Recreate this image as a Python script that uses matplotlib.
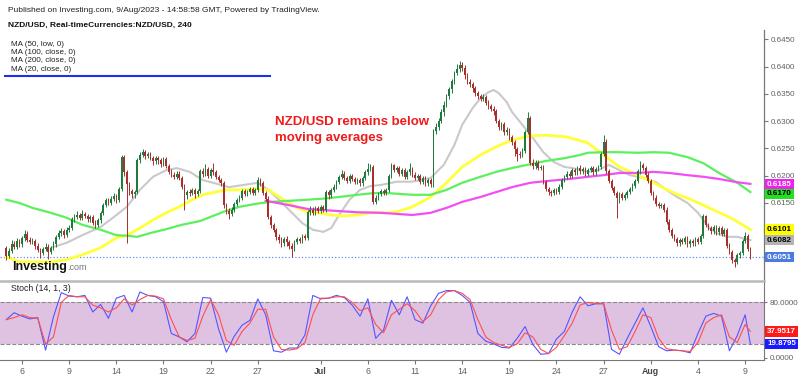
import numpy as np
import matplotlib
matplotlib.use("Agg")
import matplotlib.pyplot as plt
from matplotlib.lines import Line2D

plt.rcParams['font.family'] = ['Liberation Sans', 'DejaVu Sans']

# 4h candles, NZD/USD, 5 Jun - 9 Aug 2023 (prices in pips, /10000)
open_pips = [
    6068, 6052, 6062, 6075, 6070, 6080, 6074, 6085, 6094, 6083, 6078, 6080,
    6072, 6064, 6058, 6066, 6070, 6060, 6068, 6074, 6088, 6095, 6098, 6092,
    6100, 6104, 6120, 6124, 6128, 6122, 6130, 6126, 6120, 6124, 6114, 6110,
    6118, 6132, 6146, 6155, 6150, 6158, 6162, 6156, 6176, 6234, 6206, 6184,
    6172, 6166, 6170, 6228, 6238, 6243, 6236, 6240, 6232, 6226, 6232, 6228,
    6222, 6230, 6218, 6207, 6202, 6198, 6204, 6196, 6180, 6164, 6170, 6168,
    6174, 6166, 6172, 6208, 6204, 6212, 6200, 6210, 6206, 6198, 6192, 6186,
    6146, 6136, 6130, 6138, 6148, 6156, 6160, 6172, 6166, 6170, 6176, 6168,
    6174, 6192, 6186, 6168, 6158, 6124, 6110, 6100, 6088, 6082, 6076, 6084,
    6078, 6072, 6066, 6078, 6084, 6080, 6090, 6086, 6134, 6138, 6132, 6140,
    6136, 6142, 6138, 6170, 6164, 6174, 6180, 6188, 6198, 6204, 6196, 6190,
    6200, 6194, 6188, 6192, 6186, 6196, 6206, 6212, 6216, 6152, 6160, 6166,
    6172, 6168, 6174, 6200, 6219, 6210, 6214, 6204, 6210, 6198, 6206, 6212,
    6202, 6196, 6200, 6188, 6196, 6186, 6192, 6184, 6282, 6290, 6300, 6316,
    6330, 6346, 6358, 6374, 6388, 6396, 6402, 6398, 6384, 6372, 6368, 6360,
    6352, 6346, 6340, 6344, 6334, 6328, 6322, 6318, 6300, 6290, 6294, 6280,
    6284, 6270, 6262, 6248, 6240, 6238, 6246, 6280, 6306, 6224, 6218, 6224,
    6214, 6216, 6188, 6176, 6170, 6168, 6174, 6170, 6180, 6192, 6198, 6204,
    6200, 6210, 6206, 6214, 6208, 6212, 6204, 6210, 6214, 6206, 6212, 6216,
    6240, 6262, 6208, 6190, 6178, 6168, 6160, 6166, 6160, 6164, 6170, 6176,
    6182, 6190, 6208, 6220, 6214, 6202, 6190, 6168, 6160, 6148, 6144, 6146,
    6138, 6116, 6100, 6090, 6084, 6076, 6082, 6078, 6086, 6074, 6080, 6076,
    6084, 6078, 6090, 6126, 6110, 6104, 6098, 6106, 6096, 6104, 6094, 6100,
    6072, 6060, 6046, 6042, 6054, 6058, 6080, 6090, 6066,
]
high_pips = [
    6072, 6068, 6082, 6080, 6086, 6084, 6090, 6100, 6098, 6088, 6086, 6084,
    6076, 6068, 6070, 6076, 6074, 6072, 6080, 6092, 6100, 6104, 6102, 6106,
    6110, 6124, 6130, 6136, 6132, 6137, 6134, 6130, 6128, 6128, 6118, 6122,
    6136, 6150, 6160, 6160, 6162, 6168, 6166, 6180, 6238, 6238, 6210, 6188,
    6176, 6174, 6232, 6244, 6248, 6247, 6244, 6244, 6236, 6236, 6236, 6232,
    6234, 6234, 6222, 6212, 6206, 6208, 6208, 6200, 6184, 6174, 6176, 6178,
    6178, 6176, 6212, 6214, 6222, 6216, 6214, 6223, 6210, 6202, 6196, 6190,
    6150, 6140, 6142, 6152, 6160, 6164, 6176, 6176, 6174, 6180, 6180, 6178,
    6198, 6196, 6190, 6172, 6162, 6128, 6114, 6104, 6094, 6088, 6088, 6090,
    6082, 6076, 6082, 6088, 6088, 6094, 6094, 6138, 6144, 6142, 6144, 6144,
    6146, 6146, 6174, 6174, 6178, 6184, 6192, 6202, 6210, 6208, 6200, 6204,
    6204, 6198, 6196, 6196, 6200, 6210, 6223, 6222, 6220, 6164, 6170, 6176,
    6176, 6178, 6204, 6224, 6222, 6218, 6218, 6214, 6214, 6210, 6224, 6216,
    6206, 6204, 6204, 6200, 6200, 6196, 6196, 6286, 6296, 6306, 6322, 6336,
    6350, 6362, 6378, 6392, 6404, 6410, 6408, 6402, 6388, 6378, 6372, 6364,
    6356, 6350, 6350, 6348, 6338, 6332, 6328, 6322, 6304, 6298, 6298, 6290,
    6288, 6274, 6266, 6252, 6246, 6250, 6284, 6316, 6310, 6230, 6228, 6228,
    6220, 6220, 6192, 6180, 6174, 6178, 6178, 6184, 6196, 6202, 6208, 6208,
    6214, 6214, 6218, 6220, 6216, 6216, 6214, 6218, 6218, 6216, 6220, 6244,
    6274, 6268, 6212, 6194, 6182, 6172, 6170, 6170, 6168, 6174, 6180, 6186,
    6194, 6212, 6226, 6224, 6218, 6206, 6194, 6172, 6164, 6152, 6150, 6150,
    6142, 6120, 6104, 6094, 6088, 6086, 6086, 6090, 6090, 6084, 6084, 6088,
    6088, 6094, 6130, 6128, 6114, 6108, 6110, 6110, 6108, 6108, 6104, 6104,
    6076, 6064, 6050, 6058, 6062, 6084, 6096, 6094, 6070,
]
low_pips = [
    6046, 6050, 6058, 6066, 6066, 6070, 6070, 6080, 6079, 6074, 6074, 6066,
    6060, 6050, 6054, 6062, 6047, 6056, 6064, 6070, 6084, 6090, 6086, 6088,
    6096, 6100, 6116, 6120, 6118, 6118, 6122, 6116, 6115, 6110, 6104, 6106,
    6114, 6128, 6142, 6146, 6146, 6154, 6150, 6152, 6172, 6200, 6077, 6165,
    6160, 6160, 6166, 6224, 6234, 6230, 6232, 6228, 6220, 6222, 6222, 6216,
    6218, 6214, 6203, 6198, 6194, 6194, 6192, 6176, 6137, 6158, 6162, 6164,
    6160, 6162, 6168, 6198, 6200, 6196, 6196, 6202, 6194, 6188, 6182, 6140,
    6130, 6120, 6126, 6134, 6144, 6152, 6156, 6162, 6162, 6166, 6164, 6164,
    6170, 6182, 6164, 6154, 6120, 6104, 6096, 6082, 6076, 6070, 6072, 6072,
    6066, 6051, 6062, 6074, 6076, 6076, 6082, 6082, 6128, 6128, 6128, 6132,
    6132, 6134, 6134, 6158, 6160, 6170, 6176, 6184, 6194, 6192, 6186, 6186,
    6190, 6184, 6184, 6182, 6182, 6192, 6202, 6208, 6148, 6148, 6156, 6162,
    6164, 6164, 6170, 6196, 6206, 6206, 6200, 6200, 6194, 6194, 6202, 6198,
    6192, 6192, 6184, 6184, 6182, 6182, 6180, 6180, 6276, 6284, 6296, 6310,
    6326, 6340, 6352, 6368, 6384, 6390, 6392, 6378, 6368, 6362, 6354, 6346,
    6340, 6336, 6336, 6330, 6322, 6318, 6312, 6296, 6284, 6284, 6274, 6274,
    6266, 6256, 6236, 6226, 6232, 6234, 6242, 6276, 6220, 6212, 6212, 6210,
    6210, 6184, 6172, 6164, 6162, 6164, 6166, 6166, 6176, 6188, 6194, 6196,
    6196, 6202, 6202, 6204, 6204, 6200, 6200, 6206, 6202, 6202, 6208, 6212,
    6236, 6204, 6186, 6174, 6164, 6122, 6150, 6156, 6156, 6160, 6166, 6172,
    6178, 6186, 6204, 6210, 6198, 6186, 6164, 6156, 6144, 6140, 6140, 6134,
    6112, 6096, 6086, 6080, 6072, 6072, 6074, 6074, 6070, 6070, 6072, 6072,
    6074, 6074, 6086, 6106, 6100, 6094, 6094, 6092, 6092, 6090, 6090, 6068,
    6056, 6040, 6032, 6038, 6050, 6054, 6076, 6062, 6048,
]
close_pips = [
    6052, 6062, 6075, 6070, 6080, 6074, 6085, 6094, 6083, 6078, 6080, 6072,
    6064, 6058, 6066, 6070, 6060, 6068, 6074, 6088, 6095, 6098, 6092, 6100,
    6104, 6120, 6124, 6128, 6122, 6130, 6126, 6120, 6124, 6114, 6110, 6118,
    6132, 6146, 6155, 6150, 6158, 6162, 6156, 6176, 6234, 6206, 6184, 6172,
    6166, 6170, 6228, 6238, 6243, 6236, 6240, 6232, 6226, 6232, 6228, 6222,
    6230, 6218, 6207, 6202, 6198, 6204, 6196, 6180, 6164, 6170, 6168, 6174,
    6166, 6172, 6208, 6204, 6212, 6200, 6210, 6206, 6198, 6192, 6186, 6146,
    6136, 6130, 6138, 6148, 6156, 6160, 6172, 6166, 6170, 6176, 6168, 6174,
    6192, 6186, 6168, 6158, 6124, 6110, 6100, 6088, 6082, 6076, 6084, 6078,
    6072, 6066, 6078, 6084, 6080, 6090, 6086, 6134, 6138, 6132, 6140, 6136,
    6142, 6138, 6170, 6164, 6174, 6180, 6188, 6198, 6204, 6196, 6190, 6200,
    6194, 6188, 6192, 6186, 6196, 6206, 6212, 6216, 6152, 6160, 6166, 6172,
    6168, 6174, 6200, 6219, 6210, 6214, 6204, 6210, 6198, 6206, 6212, 6202,
    6196, 6200, 6188, 6196, 6186, 6192, 6184, 6282, 6290, 6300, 6316, 6330,
    6346, 6358, 6374, 6388, 6396, 6402, 6398, 6384, 6372, 6368, 6360, 6352,
    6346, 6340, 6344, 6334, 6328, 6322, 6318, 6300, 6290, 6294, 6280, 6284,
    6270, 6262, 6248, 6240, 6238, 6246, 6280, 6306, 6224, 6218, 6224, 6214,
    6216, 6188, 6176, 6170, 6168, 6174, 6170, 6180, 6192, 6198, 6204, 6200,
    6210, 6206, 6214, 6208, 6212, 6204, 6210, 6214, 6206, 6212, 6216, 6240,
    6262, 6208, 6190, 6178, 6168, 6160, 6166, 6160, 6164, 6170, 6176, 6182,
    6190, 6208, 6220, 6214, 6202, 6190, 6168, 6160, 6148, 6144, 6146, 6138,
    6116, 6100, 6090, 6084, 6076, 6082, 6078, 6086, 6074, 6080, 6076, 6084,
    6078, 6090, 6126, 6110, 6104, 6098, 6106, 6096, 6104, 6094, 6100, 6072,
    6060, 6046, 6042, 6054, 6058, 6080, 6090, 6066, 6051,
]

# moving averages at these bar numbers
ma20_x = [17, 23, 29, 36, 41, 46, 51, 56, 61, 65, 70, 75, 82, 85, 96, 100, 103, 108, 113, 117,
          121, 124, 127, 131, 135, 139, 143, 149, 155, 162, 167, 171, 174, 178, 181, 184, 186, 188,
          191, 193, 197, 201, 205, 209, 213, 216, 222, 226, 230, 234, 238, 243, 248, 252, 256, 260,
          264, 268, 271, 275, 279, 284]
ma20 = [0.6068, 0.6077, 0.6091, 0.6106, 0.6124, 0.6143, 0.6174, 0.6198, 0.6210, 0.6214, 0.6207,
        0.6192, 0.6183, 0.6179, 0.6187, 0.6174, 0.6161, 0.6137, 0.6113, 0.6101, 0.6097, 0.6104,
        0.6128, 0.6156, 0.6174, 0.6181, 0.6183, 0.6189, 0.6189, 0.6196, 0.6220, 0.6256, 0.6293,
        0.6324, 0.6342, 0.6353, 0.6357, 0.6351, 0.6335, 0.6317, 0.6293, 0.6269, 0.6243, 0.6225,
        0.6216, 0.6214, 0.6207, 0.6210, 0.6220, 0.6210, 0.6201, 0.6196, 0.6188, 0.6174, 0.6161,
        0.6150, 0.6132, 0.6106, 0.6095, 0.6088, 0.6088, 0.6082]
ma50_x = [0, 5, 17, 23, 29, 36, 42, 46, 51, 56, 61, 66, 71, 75, 80, 84, 89, 96, 100, 103, 107,
          111, 115, 119, 124, 129, 134, 139, 146, 150, 155, 162, 168, 174, 181, 187, 193, 200, 206,
          214, 222, 228, 234, 241, 246, 251, 256, 261, 266, 271, 276, 280, 284]
ma50 = [0.6051, 0.6042, 0.6042, 0.6046, 0.6055, 0.6068, 0.6086, 0.6091, 0.6104, 0.6119, 0.6132,
        0.6143, 0.6156, 0.6165, 0.6170, 0.6174, 0.6174, 0.6176, 0.6174, 0.6165, 0.6152, 0.6141,
        0.6134, 0.6132, 0.6128, 0.6126, 0.6128, 0.6132, 0.6132, 0.6135, 0.6143, 0.6161, 0.6187,
        0.6216, 0.6238, 0.6253, 0.6265, 0.6273, 0.6274, 0.6271, 0.6260, 0.6238, 0.6216, 0.6201,
        0.6190, 0.6177, 0.6166, 0.6157, 0.6146, 0.6135, 0.6124, 0.6113, 0.6101]
ma100_x = [0, 5, 10, 17, 23, 29, 36, 42, 46, 50, 55, 61, 67, 74, 83, 89, 96, 101, 108, 115, 121,
           127, 134, 140, 146, 155, 162, 168, 174, 181, 187, 193, 200, 206, 213, 219, 222, 228,
           234, 241, 247, 253, 260, 266, 272, 279, 284]
ma100 = [0.6156, 0.6150, 0.6141, 0.6132, 0.6123, 0.6110, 0.6101, 0.6091, 0.6090, 0.6088, 0.6095,
         0.6102, 0.6110, 0.6117, 0.6134, 0.6143, 0.6149, 0.6152, 0.6154, 0.6156, 0.6158, 0.6161,
         0.6165, 0.6168, 0.6168, 0.6165, 0.6165, 0.6174, 0.6187, 0.6198, 0.6207, 0.6214, 0.6221,
         0.6227, 0.6232, 0.6238, 0.6242, 0.6243, 0.6243, 0.6242, 0.6243, 0.6242, 0.6234, 0.6223,
         0.6205, 0.6187, 0.6170]
ma200_x = [99, 108, 115, 121, 134, 143, 155, 162, 168, 174, 181, 187, 193, 200, 206, 215, 222,
           228, 234, 241, 247, 253, 260, 266, 272, 279, 284]
ma200 = [0.6154, 0.6146, 0.6139, 0.6137, 0.6133, 0.6132, 0.6128, 0.6132, 0.6141, 0.6152, 0.6161,
         0.6170, 0.6179, 0.6187, 0.6190, 0.6194, 0.6198, 0.6201, 0.6205, 0.6205, 0.6207, 0.6205,
         0.6201, 0.6198, 0.6194, 0.6188, 0.6185]

# stochastic (14, 1, 3), every third bar plus the last one
stoch_k = [55, 65, 60, 56, 58, 11, 59, 94, 89, 88,
           90, 66, 77, 57, 86, 90, 66, 95, 90, 88,
           81, 35, 30, 23, 35, 87, 86, 42, 8, 31,
           47, 54, 85, 62, 10, 8, 14, 14, 33, 90,
           85, 86, 90, 87, 76, 60, 85, 28, 40, 83,
           62, 88, 55, 50, 75, 93, 97, 97, 90, 80,
           35, 24, 20, 15, 14, 28, 45, 19, 5, 6,
           27, 38, 66, 88, 75, 78, 78, 12, 5, 28,
           50, 72, 45, 16, 10, 11, 10, 7, 35, 60,
           64, 60, 10, 32, 62, 19.8795]
stoch_d = [55, 58, 62, 58, 57, 20, 30, 80, 90, 88,
           88, 76, 72, 66, 72, 85, 76, 84, 90, 89,
           85, 55, 30, 25, 28, 60, 84, 62, 25, 18,
           38, 50, 70, 70, 30, 12, 11, 13, 22, 62,
           86, 86, 88, 88, 80, 68, 72, 48, 36, 62,
           70, 78, 68, 52, 62, 84, 95, 97, 93, 84,
           55, 30, 22, 18, 15, 20, 36, 30, 12, 6,
           15, 32, 50, 76, 80, 78, 78, 40, 12, 16,
           38, 62, 58, 28, 13, 11, 10, 9, 22, 50,
           58, 62, 30, 22, 48, 37.9517]

day_labels = ["6", "9", "14", "19", "22", "27", "Jul", "6", "11", "14", "19", "24", "27", "Aug", "4", "9"]
day_numbers = [1, 4, 7, 10, 13, 16, 20, 23, 26, 29, 32, 35, 38, 41, 44, 47]  # trading days since 5 Jun
price_ticks = [0.6050, 0.6100, 0.6150, 0.6200, 0.6250, 0.6300, 0.6350, 0.6400, 0.6450]
hidden_ticks = [0.6050, 0.6100]  # covered by the last-value tags

W, H = 800, 376
GREY_TXT = "#606060"


def px_box(x0, y0, x1, y1):
    return [x0 / W, 1 - y1 / H, (x1 - x0) / W, (y1 - y0) / H]


def tag(axis, value, text, fc, tc):
    axis.text(1.004, value, text, transform=axis.get_yaxis_transform(), ha="left", va="center",
              fontsize=5.8, fontweight="bold", color=tc, clip_on=False, zorder=6,
              bbox=dict(boxstyle="square,pad=0.22", fc=fc, ec="none"))


o = np.array(open_pips) / 10000
h = np.array(high_pips) / 10000
l = np.array(low_pips) / 10000
c = np.array(close_pips) / 10000
x = np.arange(len(c))
up = c >= o

fig = plt.figure(figsize=(W / 100, H / 100), dpi=100)
ax = fig.add_axes(px_box(0, 30, 764, 280))
st = fig.add_axes(px_box(0, 281, 764, 360), sharex=ax)

# moving averages
ax.plot(ma20_x, ma20, color="#c9c9c9", lw=1.5, zorder=2)
ax.plot(ma50_x, ma50, color="#ffff3a", lw=2.0, zorder=2)
ax.plot(ma100_x, ma100, color="#5cf05c", lw=1.6, zorder=2)
ax.plot(ma200_x, ma200, color="#f24ff2", lw=1.6, zorder=2)

# candles
colors = np.where(up, "#1f7a3e", "#a8302c")
ax.vlines(x, l, h, colors=colors, lw=0.7, zorder=3)
ax.bar(x, np.maximum(np.abs(c - o), 0.00005), bottom=np.minimum(o, c), width=0.62,
       color=colors, lw=0, zorder=4)

ax.axhline(c[-1], color="#6f8fe6", ls=":", lw=0.9, zorder=1)

ax.set_xlim(-2.4, 289.2)
ax.set_ylim(0.60089, 0.64669)
ax.set_yticks(price_ticks)
ax.set_yticklabels(["" if v in hidden_ticks else f"{v:.4f}" for v in price_ticks])
ax.yaxis.tick_right()
ax.tick_params(axis="y", labelsize=5.8, labelcolor=GREY_TXT, color="#777777", length=3, pad=2)
ax.tick_params(axis="x", bottom=False, labelbottom=False)
for side in ["left", "top", "bottom"]:
    ax.spines[side].set_visible(False)
ax.spines["right"].set_color("#777777")
ax.spines["right"].set_linewidth(0.9)

tag(ax, ma200[-1] - 0.00005, f"{ma200[-1]:.4f}", "#f020f0", "white")
tag(ax, ma100[-1] - 0.00035, f"{ma100[-1]:.4f}", "#22e022", "black")
tag(ax, ma50[-1], f"{ma50[-1]:.4f}", "#ffff00", "black")
tag(ax, ma20[-1], f"{ma20[-1]:.4f}", "#b4b4b4", "black")
tag(ax, c[-1], f"{c[-1]:.4f}", "#4a7be0", "white")

# stochastic panel
stoch_x = np.append(np.arange(0, 283, 3), len(c) - 1)
st.axhspan(20, 80, color="#dfc2e2", lw=0, zorder=0)
st.axhline(80, color="#8a8a8a", ls="--", lw=0.8, zorder=1)
st.axhline(20, color="#8a8a8a", ls="--", lw=0.8, zorder=1)
st.plot(stoch_x, stoch_k, color="#5555ff", lw=0.8, zorder=3)
st.plot(stoch_x, stoch_d, color="#ff4f4f", lw=0.8, zorder=3)
st.set_ylim(-3.3, 110.8)
st.set_yticks([0, 80])
st.set_yticklabels(["0.0000", "80.0000"])
st.yaxis.tick_right()
st.tick_params(axis="y", labelsize=5.8, labelcolor=GREY_TXT, color="#777777", length=2.5, pad=1.5)
st.set_xticks([6 * d for d in day_numbers])
st.set_xticklabels(day_labels)
st.tick_params(axis="x", labelsize=6.3, labelcolor=GREY_TXT, color="#777777", length=3, pad=2)
for lab in st.get_xticklabels():
    if lab.get_text() in ("Jul", "Aug"):
        lab.set_fontweight("bold")
        lab.set_color("#444444")
st.spines["left"].set_visible(False)
st.spines["top"].set_color("#b8b8b8")
st.spines["top"].set_linewidth(1.8)
st.spines["right"].set_color("#777777")
st.spines["bottom"].set_color("#777777")
st.text(0.014, 0.9, "Stoch (14, 1, 3)", transform=st.transAxes, fontsize=6.3, color="#222222",
        va="center")
tag(st, stoch_d[-1], f"{stoch_d[-1]:.4f}", "#ff1a1a", "white")
tag(st, stoch_k[-1], f"{stoch_k[-1]:.4f}", "#1a1aff", "white")

# header and legend
fig.text(8 / W, 1 - 10 / H, "Published on Investing.com, 9/Aug/2023 - 14:58:58 GMT, Powered by TradingView.",
         fontsize=6, color="#222222", va="center")
fig.text(8 / W, 1 - 25 / H, "NZD/USD, Real-timeCurrencies:NZD/USD, 240",
         fontsize=6, fontweight="bold", color="#111111", va="center")
for k, name in enumerate(["MA (50, low, 0)", "MA (100, close, 0)", "MA (200, close, 0)", "MA (20, close, 0)"]):
    fig.text(11 / W, 1 - (44 + 8.4 * k) / H, name, fontsize=5.8, color="#222222", va="center")
fig.add_artist(Line2D([5 / W, 270 / W], [1 - 75.5 / H, 1 - 75.5 / H], color="#1f2ff0", lw=1.5))

fig.text(275 / W, 1 - 122 / H, "NZD/USD remains below", fontsize=9.5, fontweight="bold",
         color="#ee1c1c", va="center")
fig.text(275 / W, 1 - 138 / H, "moving averages", fontsize=9.5, fontweight="bold",
         color="#ee1c1c", va="center")

fig.text(12 / W, 1 - 267 / H, "Investing", fontsize=9, fontweight="bold", color="#111111", va="center")
fig.text(67 / W, 1 - 268 / H, ".com", fontsize=6.5, color="#777777", va="center")

fig.savefig("out.png", dpi=100, facecolor="white")
